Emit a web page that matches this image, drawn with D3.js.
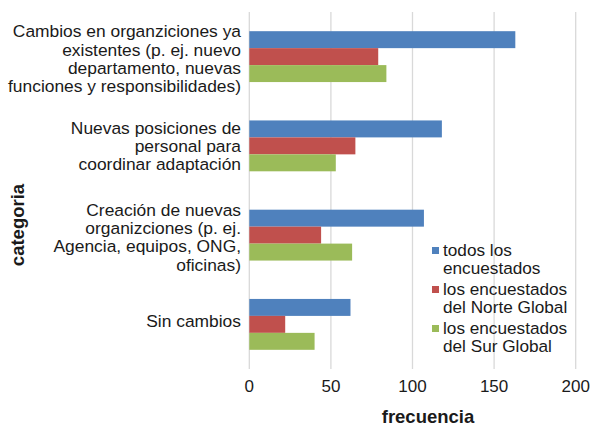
<!DOCTYPE html>
<html>
<head>
<meta charset="utf-8">
<script src="https://cdn.jsdelivr.net/npm/d3@7"></script>
<style>
  body { margin: 0; background: #fff; }
  text { font-family: "Liberation Sans", Arial, sans-serif; fill: #1a1a1a; }
</style>
</head>
<body>
<svg id="chart" width="591" height="427"></svg>
<script>
const categories = [
  ["Cambios en organziciones ya", "existentes (p. ej. nuevo", "departamento, nuevas", "funciones y responsibilidades)"],
  ["Nuevas posiciones de", "personal para", "coordinar adaptación"],
  ["Creación de nuevas", "organizciones (p. ej.", "Agencia, equipos, ONG,", "oficinas)"],
  ["Sin cambios"]
]
const todos = [163, 118, 107, 62]
const norte = [79, 65, 44, 22]
const sur = [84, 53, 63, 40]
const seriesNames = [["todos los", "encuestados"], ["los encuestados", "del Norte Global"], ["los encuestados", "del Sur Global"]]
const colors = ["#4f81bd", "#c0504d", "#9bbb59"]
const xTicks = [0, 50, 100, 150, 200]

const svg = d3.select("#chart")
const fs = 17.4
const plotLeft = 249.3, plotRight = 575.7, plotTop = 12, plotBottom = 369

const x = d3.scaleLinear().domain([0, 200]).range([plotLeft, plotRight])
const y = d3.scaleBand().domain(d3.range(categories.length)).range([plotTop, plotBottom])
  .paddingInner(0.43).paddingOuter(0.215)
const series = [todos, norte, sur]
const ySub = d3.scaleBand().domain(d3.range(series.length)).range([0, y.bandwidth()])

// gridlines
svg.append("g").selectAll("line").data(xTicks).join("line")
  .attr("x1", d => x(d)).attr("x2", d => x(d))
  .attr("y1", plotTop).attr("y2", plotBottom)
  .attr("stroke", "#d9d9d9").attr("stroke-width", 1.3)

// bars
series.forEach((vals, s) => {
  svg.append("g").selectAll("rect").data(vals).join("rect")
    .attr("x", x(0))
    .attr("y", (d, i) => y(i) + ySub(s))
    .attr("width", d => x(d) - x(0))
    .attr("height", ySub.bandwidth())
    .attr("fill", colors[s])
})

// tick labels
svg.append("g").selectAll("text").data(xTicks).join("text")
  .attr("x", d => x(d)).attr("y", 392)
  .attr("text-anchor", "middle").attr("font-size", 17)
  .text(d => d)

// category labels (small nudges like excel does)
const lh = 18.4
const nudge = [2, 0, 2, -3]
categories.forEach((lines, i) => {
  const cy = y(i) + y.bandwidth() / 2 + nudge[i]
  const t = svg.append("text").attr("text-anchor", "end").attr("font-size", fs)
  lines.forEach((ln, j) => {
    t.append("tspan").attr("x", 241)
      .attr("y", cy + (j - (lines.length - 1) / 2) * lh + 0.35 * fs)
      .text(ln)
  })
})

// axis titles
svg.append("text").attr("x", 428).attr("y", 423)
  .attr("text-anchor", "middle").attr("font-size", 18.5).attr("font-weight", "bold")
  .text("frecuencia")
svg.append("text").attr("transform", "translate(24,225) rotate(-90)")
  .attr("text-anchor", "middle").attr("font-size", 18.5).attr("font-weight", "bold")
  .text("categoria")

// legend
const legend = svg.append("g")
seriesNames.forEach((lines, s) => {
  const ly = 250 + s * 39
  legend.append("rect").attr("x", 432).attr("y", ly - 3).attr("width", 7).attr("height", 7)
    .attr("fill", colors[s])
  const t = legend.append("text").attr("font-size", 17.2)
  lines.forEach((ln, j) => {
    t.append("tspan").attr("x", 443).attr("y", ly + j * 17.5 + 0.35 * 17.2).text(ln)
  })
})
</script>
</body>
</html>
